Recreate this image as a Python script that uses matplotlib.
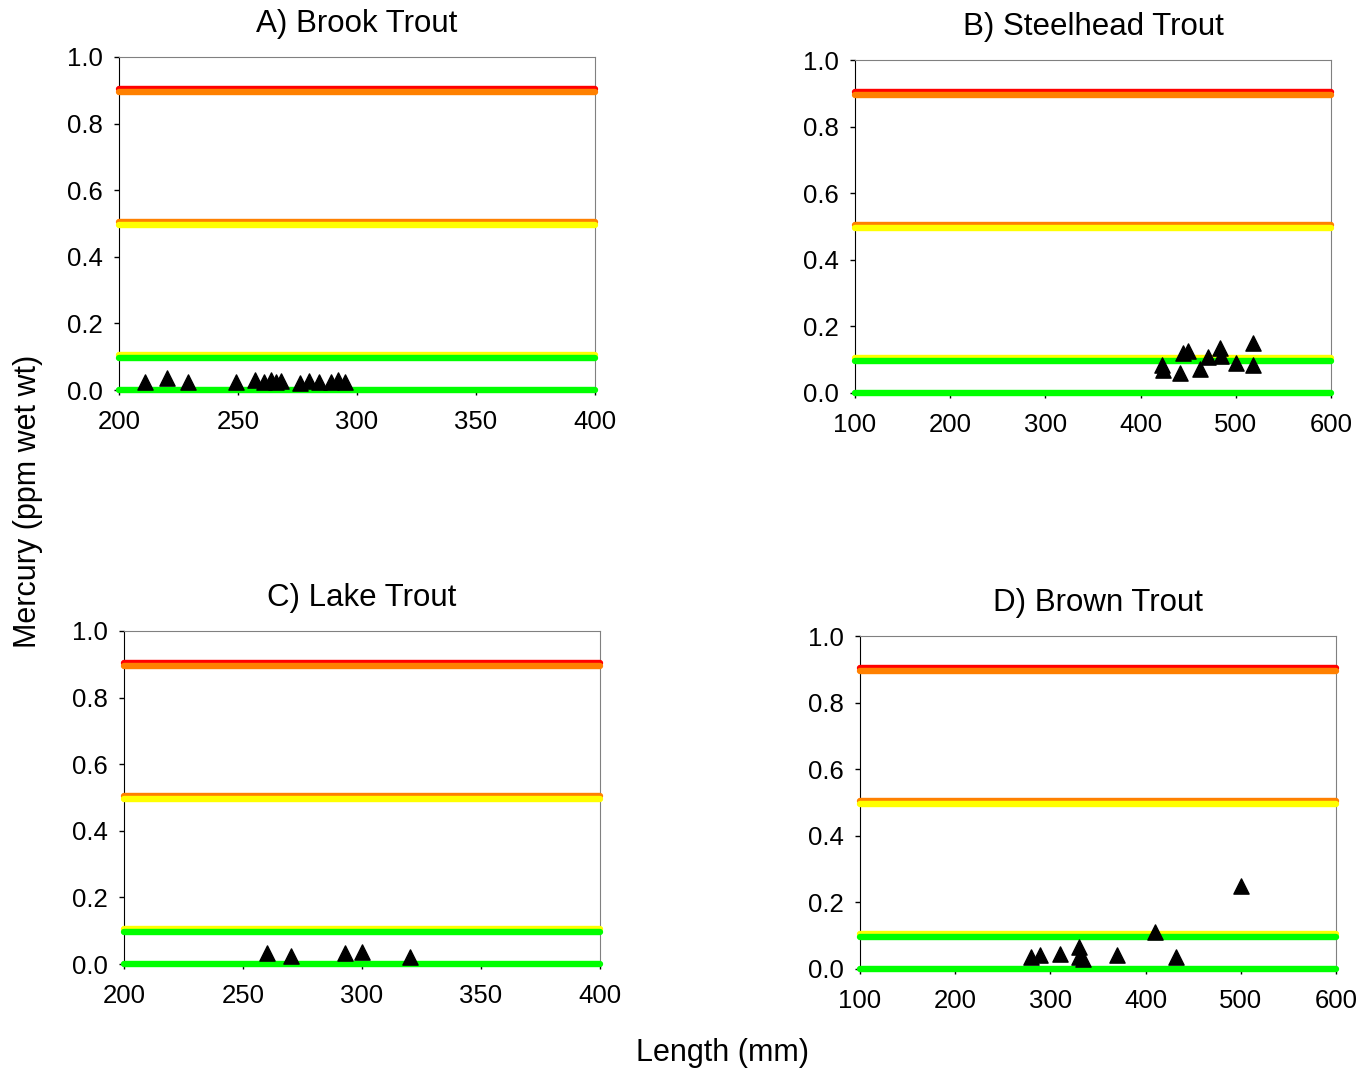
import matplotlib
matplotlib.use("Agg")
import matplotlib.pyplot as plt
import matplotlib.transforms as mtransforms
import numpy as np

plt.rcParams["font.family"] = ["Liberation Sans", "DejaVu Sans"]

# advisory levels (ppm); each level drawn as an upper/lower colour pair
levels = [0.9, 0.5, 0.1]
upper_cols = ["#ff0000", "#ff8000", "#ffff00"]
lower_cols = ["#ff8000", "#ffff00", "#00ff00"]
base_col = "#00ff00"

titles = ["A) Brook Trout", "B) Steelhead Trout", "C) Lake Trout", "D) Brown Trout"]

brook_len = [211, 220, 229, 249, 257, 261, 264, 266, 268, 276, 280, 284, 289, 292, 295]
brook_hg = [0.025, 0.035, 0.025, 0.025, 0.03, 0.025, 0.03, 0.025, 0.028, 0.022, 0.028, 0.025, 0.025, 0.03, 0.025]

steel_len = [422, 424, 441, 445, 450, 462, 471, 483, 484, 500, 518, 518]
steel_hg = [0.084, 0.069, 0.061, 0.119, 0.127, 0.071, 0.109, 0.134, 0.111, 0.091, 0.149, 0.084]

lake_len = [260, 270, 293, 300, 320]
lake_hg = [0.032, 0.024, 0.032, 0.037, 0.022]

brown_len = [280, 289, 310, 330, 330, 334, 370, 410, 432, 500]
brown_hg = [0.037, 0.042, 0.045, 0.065, 0.035, 0.029, 0.042, 0.112, 0.035, 0.249]

lens = [brook_len, steel_len, lake_len, brown_len]
hgs = [brook_hg, steel_hg, lake_hg, brown_hg]
xlims = [(200, 400), (100, 600), (200, 400), (100, 600)]
xticks = [np.arange(200, 401, 50), np.arange(100, 601, 100),
          np.arange(200, 401, 50), np.arange(100, 601, 100)]

W, H = 1363, 1073
# axes boxes in pixels: left, top, right, bottom
boxes = [(119, 57, 595, 390), (855, 60, 1331, 393),
         (124, 631, 600, 964), (860, 636, 1336, 969)]

fig = plt.figure(figsize=(W / 100, H / 100), dpi=100)

for i in range(4):
    l, t, r, b = boxes[i]
    ax = fig.add_axes([l / W, 1 - b / H, (r - l) / W, (b - t) / H])
    x0, x1 = xlims[i]
    lw = 4.6
    for lev, cu, cl in zip(levels, upper_cols, lower_cols):
        up = mtransforms.offset_copy(ax.transData, fig=fig, y=1.7, units="dots")
        dn = mtransforms.offset_copy(ax.transData, fig=fig, y=-1.7, units="dots")
        ax.plot([x0, x1], [lev, lev], color=cu, lw=lw, transform=up,
                solid_capstyle="round", clip_on=False, zorder=3)
        ax.plot([x0, x1], [lev, lev], color=cl, lw=lw, transform=dn,
                solid_capstyle="round", clip_on=False, zorder=3)
    ax.plot([x0, x1], [0, 0], color=base_col, lw=lw, solid_capstyle="round",
            clip_on=False, zorder=3)
    ax.scatter(lens[i], hgs[i], marker="^", s=120, color="black",
               zorder=4, clip_on=False)
    ax.set_xlim(x0, x1)
    ax.set_ylim(0, 1.0)
    ax.set_xticks(xticks[i])
    ax.set_yticks(np.arange(0, 1.01, 0.2))
    ax.set_yticklabels([f"{v:.1f}" for v in np.arange(0, 1.01, 0.2)])
    ax.tick_params(direction="out", length=3.5, width=1, labelsize=18.5)
    ax.tick_params(axis="x", pad=11)
    ax.tick_params(axis="y", pad=8)
    for s in ["top", "right"]:
        ax.spines[s].set_color("#808080")
    ax.set_title(titles[i], fontsize=22.5, pad=18)

fig.text(28 / W, 1 - 501 / H, "Mercury (ppm wet wt)", rotation=90,
         ha="center", va="center", fontsize=22)
fig.text(722 / W, 1 - 1053 / H, "Length (mm)", ha="center", va="center",
         fontsize=22)

fig.savefig("out.png", dpi=100)
